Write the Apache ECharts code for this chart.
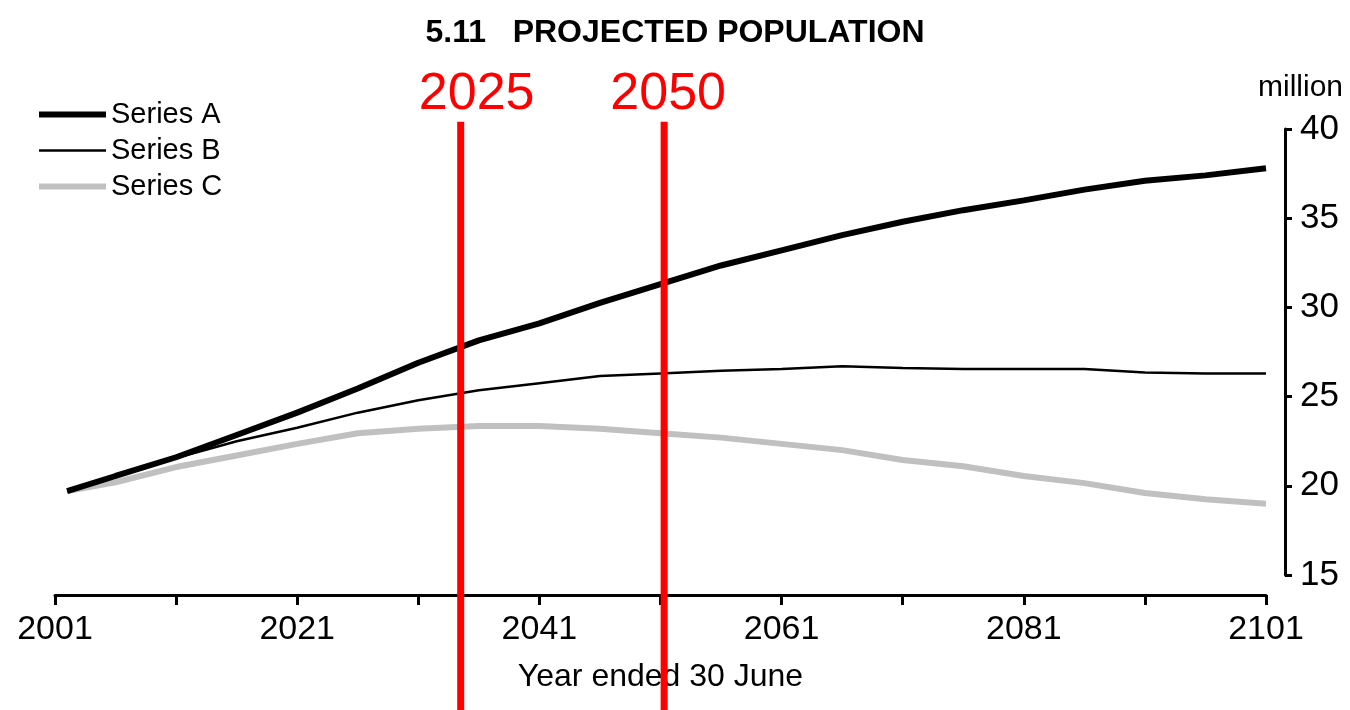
<!DOCTYPE html>
<html>
<head>
<meta charset="utf-8">
<script src="https://cdn.jsdelivr.net/npm/echarts@6/dist/echarts.min.js"></script>
<style>
  html, body { margin: 0; padding: 0; background: #ffffff; }
  #chart { width: 1350px; height: 710px; }
</style>
</head>
<body>
<div id="chart"></div>
<script>
// Projected population, millions, year ended 30 June
const baseYear = 2001;
const years = [2002, 2006, 2011, 2016, 2021, 2026, 2031, 2036, 2041, 2046, 2051,
               2056, 2061, 2066, 2071, 2076, 2081, 2086, 2091, 2096, 2101];
const seriesA = [19.7, 20.55, 21.6, 22.85, 24.1, 25.45, 26.9, 28.15, 29.1, 30.25, 31.3,
                 32.35, 33.2, 34.05, 34.8, 35.45, 36.0, 36.6, 37.1, 37.4, 37.8];
const seriesB = [19.7, 20.5, 21.55, 22.5, 23.25, 24.1, 24.8, 25.35, 25.75, 26.15, 26.3,
                 26.45, 26.55, 26.7, 26.6, 26.55, 26.55, 26.55, 26.35, 26.3, 26.3];
const seriesC = [19.7, 20.2, 21.05, 21.7, 22.35, 22.95, 23.2, 23.35, 23.35, 23.2, 22.95,
                 22.7, 22.35, 22.0, 21.45, 21.1, 20.55, 20.15, 19.6, 19.25, 19.0];
const seriesNames = ['Series A', 'Series B', 'Series C'];
const xTickLabels = ['2001', '2021', '2041', '2061', '2081', '2101'];
const yTicks = { min: 15, max: 40, step: 5 };
// highlighted years with their captions
const markerYears = [2034.5, 2051.3];
const markerLabels = ['2025', '2050'];

const FONT = '"Liberation Sans", Arial, sans-serif';
const lineColors = ['#000000', '#000000', '#c0c0c0'];
const lineWidths = [6, 2.5, 6];

function toPairs(vals) {
  return years.map((y, i) => [y - baseYear, vals[i]]);
}

const chart = echarts.init(document.getElementById('chart'), null, { renderer: 'canvas' });

chart.setOption({
  animation: false,
  backgroundColor: '#ffffff',
  textStyle: { fontFamily: FONT, color: '#000' },
  title: [
    {
      text: '5.11   PROJECTED POPULATION',
      left: 'center',
      top: 12,
      textStyle: { fontFamily: FONT, fontSize: 32, fontWeight: 'bold', color: '#000' }
    },
    {
      text: 'million',
      right: 2,
      top: 68,
      textStyle: { fontFamily: FONT, fontSize: 30, fontWeight: 'normal', color: '#000' }
    }
  ],
  legend: {
    orient: 'vertical',
    left: 31,
    top: 95,
    itemWidth: 67,
    itemHeight: 14,
    itemGap: 7,
    data: seriesNames.map((n, i) => ({
      name: n,
      itemStyle: { opacity: 0 },
      lineStyle: { width: lineWidths[i], color: lineColors[i], opacity: 1 }
    })),
    textStyle: { fontFamily: FONT, fontSize: 29, color: '#000' }
  },
  grid: { left: 55, right: 84, top: 129, bottom: 135 },
  xAxis: {
    type: 'value',
    min: 0,
    max: 100,
    interval: 10,
    offset: 20,
    name: 'Year ended 30 June',
    nameLocation: 'middle',
    nameGap: 66,
    nameTextStyle: { fontFamily: FONT, fontSize: 32, color: '#000' },
    axisLine: { show: true, onZero: false, lineStyle: { color: '#000', width: 3 } },
    axisTick: { show: true, length: 10, lineStyle: { color: '#000', width: 3 } },
    axisLabel: {
      margin: 18,
      fontFamily: FONT,
      fontSize: 34,
      color: '#000',
      formatter: v => (v % 20 === 0 ? xTickLabels[v / 20] : '')
    },
    splitLine: { show: false }
  },
  yAxis: {
    type: 'value',
    position: 'right',
    offset: 19,
    min: yTicks.min,
    max: yTicks.max,
    interval: yTicks.step,
    axisLine: { show: true, onZero: false, lineStyle: { color: '#000', width: 3 } },
    axisTick: { show: true, length: 7, lineStyle: { color: '#000', width: 3 } },
    axisLabel: { margin: 15, fontFamily: FONT, fontSize: 35, color: '#000' },
    splitLine: { show: false }
  },
  series: [
    {
      name: seriesNames[0], type: 'line', data: toPairs(seriesA), symbol: 'none', z: 4,
      lineStyle: { color: lineColors[0], width: lineWidths[0] }, itemStyle: { color: lineColors[0] }
    },
    {
      name: seriesNames[1], type: 'line', data: toPairs(seriesB), symbol: 'none', z: 3,
      lineStyle: { color: lineColors[1], width: lineWidths[1] }, itemStyle: { color: lineColors[1] }
    },
    {
      name: seriesNames[2], type: 'line', data: toPairs(seriesC), symbol: 'none', z: 2,
      lineStyle: { color: lineColors[2], width: lineWidths[2] }, itemStyle: { color: lineColors[2] }
    }
  ]
});

// Red reference lines with their captions, placed through the axis scales
const labelShift = [16, 4];
const topY = chart.convertToPixel({ yAxisIndex: 0 }, 40.4);
const bottomY = chart.getHeight();
const graphics = [];
markerYears.forEach((yr, i) => {
  const px = chart.convertToPixel({ xAxisIndex: 0 }, yr - baseYear);
  graphics.push({
    type: 'line',
    z: 10,
    shape: { x1: px, y1: topY, x2: px, y2: bottomY },
    style: { stroke: '#ff0000', lineWidth: 7 }
  });
  graphics.push({
    type: 'text',
    z: 10,
    x: px + labelShift[i],
    y: topY - 27,
    style: {
      text: markerLabels[i],
      fill: '#ff0000',
      font: '52px ' + FONT,
      textAlign: 'center',
      textVerticalAlign: 'middle'
    }
  });
});
chart.setOption({ graphic: graphics });
</script>
</body>
</html>
